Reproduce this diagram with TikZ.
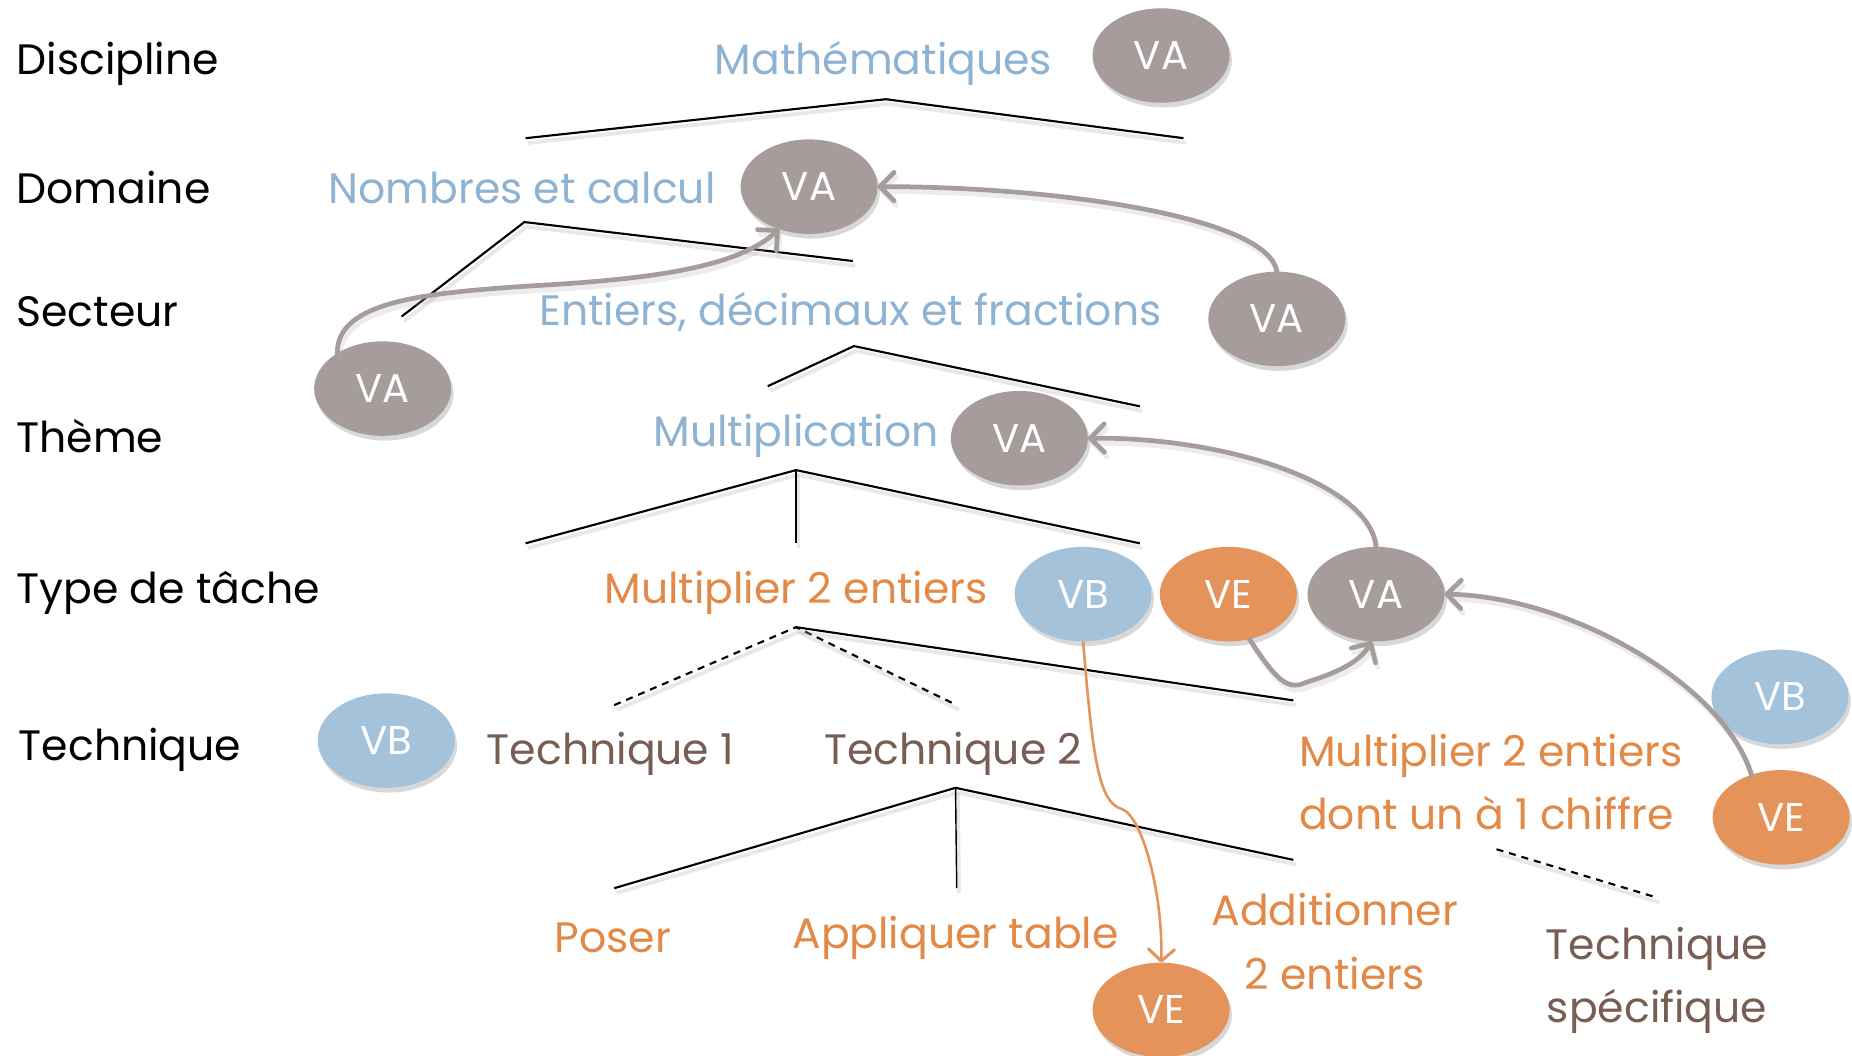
\documentclass[tikz,border=0pt]{standalone}
\usepackage{fontspec}
\setmainfont{Poppins}
\usetikzlibrary{shapes.geometric,arrows.meta,shadows}
\definecolor{cVA}{HTML}{A59C9B}
\definecolor{cVB}{HTML}{A5C2DB}
\definecolor{cVE}{HTML}{E4935A}
\definecolor{tBlue}{HTML}{8EB2D2}
\definecolor{tOrange}{HTML}{E38947}
\definecolor{tBrown}{HTML}{785D52}
\tikzset{
  every node/.style={inner sep=0pt, outer sep=0pt, font=\fontsize{18}{27}\selectfont},
  lab/.style={anchor=west, text=black},
  blu/.style={text=tBlue},
  org/.style={text=tOrange},
  brn/.style={text=tBrown},
  ell/.style={ellipse, minimum width=58pt, minimum height=40pt, text=white,
     font=\fontsize{17}{20}\selectfont,
     drop shadow={shadow xshift=1pt, shadow yshift=-2pt, opacity=0.22, fill=black!70}},
  va/.style={ell, fill=cVA},
  vb/.style={ell, fill=cVB},
  ve/.style={ell, fill=cVE},
  tree/.style={line width=0.9pt, black, line join=miter,
     preaction={draw=black!30, line width=1.6pt, opacity=0.3, transform canvas={shift={(1pt,-2pt)}}}},
  stem/.style={tree, line width=0.6pt},
  dtree/.style={tree, dashed, dash pattern=on 3pt off 2.5pt},
  garr/.style={draw=cVA, line width=2pt, line cap=round, -{Straight Barb[length=6pt,width=12pt,line width=2pt,round]},
     preaction={draw=black!30, line width=2.2pt, opacity=0.25, transform canvas={shift={(1pt,-2pt)}}}},
  oarr/.style={draw=cVE, line width=1.1pt, -{Straight Barb[length=5pt,width=11pt,line width=1.3pt,round]}}
}
\begin{document}
\begin{tikzpicture}[x=0.5pt,y=-0.5pt]
\useasboundingbox (0,0) rectangle (1568,894);
% left labels
\node[lab] (lDisc) at (14,54) {Discipline};
\node[lab] (lDom) at (14,159) {Domaine};
\node[lab] (lSec) at (14,264) {Secteur};
\node[lab] (lThe) at (14,369) {Thème};
\node[lab] (lType) at (14,502) {Type de tâche};
\node[lab] (lTech) at (16,635) {Technique};
% tree texts
\node[blu] (math) at (748,54) {Mathématiques};
\node[blu] (nomb) at (442,159) {Nombres et calcul};
\node[blu] (ent) at (720,264) {Entiers, décimaux et fractions};
\node[blu] (mult) at (674,369) {Multiplication};
\node[org] (m2e) at (674,502) {Multiplier 2 entiers};
\node[brn] (t1) at (517,638) {Technique 1};
\node[brn] (t2) at (807,638) {Technique 2};
\node[org, align=left, anchor=west] (m2e1) at (1100,662) {Multiplier 2 entiers\\dont un à 1 chiffre};
\node[org] (poser) at (519,794) {Poser};
\node[org] (appl) at (809,794) {Appliquer table};
\node[org, align=center] (addi) at (1130,797) {Additionner\\2 entiers};
\node[brn, align=center] (tspec) at (1403,830) {Technique\\spécifique};
% ellipses
\node[va] (va1) at (983,47) {VA};
\node[va] (va2) at (685,158) {VA};
\node[va] (va3) at (1081,270) {VA};
\node[va] (va4) at (324,329) {VA};
\node[va] (va5) at (863,371) {VA};
\node[va] (va6) at (1165,503) {VA};
\node[vb] (vb1) at (917,503) {VB};
\node[vb] (vb2) at (327,627) {VB};
\node[vb] (vb3) at (1507,590) {VB};
\node[ve] (ve1) at (1040,503) {VE};
\node[ve] (ve2) at (1508,692) {VE};
\node[ve] (ve3) at (983,855) {VE};
% tree coordinates
\coordinate (a0) at (750,84); \coordinate (a1) at (445,117); \coordinate (a2) at (1002,117);
\coordinate (b0) at (444,188); \coordinate (b1) at (340,268); \coordinate (b2) at (722,221);
\coordinate (c0) at (723,293); \coordinate (c1) at (650,327); \coordinate (c2) at (965,344);
\coordinate (d0) at (674,398); \coordinate (d1) at (445,460); \coordinate (d2) at (674,460); \coordinate (d3) at (965,460);
\coordinate (e0) at (674,531); \coordinate (e1) at (520,597); \coordinate (e2) at (810,597); \coordinate (e3) at (1095,593);
\coordinate (f0) at (809,667); \coordinate (f1) at (520,752); \coordinate (f2) at (810,752); \coordinate (f3) at (1095,728);
\coordinate (g0) at (1267,719); \coordinate (g1) at (1403,760);
\draw[tree] (a1) -- (a0) -- (a2);
\draw[tree] (b1) -- (b0) -- (b2);
\draw[tree] (c1) -- (c0) -- (c2);
\draw[tree] (d1) -- (d0) -- (d3);
\draw[stem] (d0) -- (d2);
\draw[dtree] (e1) -- (e0) -- (e2);
\draw[tree] (e0) -- (e3);
\draw[tree] (f1) -- (f0) -- (f3);
\draw[stem] (f0) -- (f2);
\draw[dtree] (g0) -- (g1);
% arrows
\draw[garr] (va4.142) .. controls (285,255) and (360,248) .. (450,242) .. controls (560,236) and (625,225) .. (va2.235);
\draw[garr] (va3.north) .. controls (1075,185) and (900,158) .. (va2.east);
\draw[garr] (va6.north) .. controls (1160,410) and (1040,370) .. (va5.east);
\draw[garr] (ve2.125) .. controls (1460,580) and (1330,505) .. (va6.east);
\draw[garr] (ve1.295) .. controls (1080,575) and (1090,585) .. (1105,578) .. controls (1130,570) and (1150,562) .. (va6.265);
\draw[oarr] (vb1.south) .. controls (925,640) and (930,680) .. (950,685) .. controls (968,692) and (985,760) .. (ve3.north);
\end{tikzpicture}
\end{document}
